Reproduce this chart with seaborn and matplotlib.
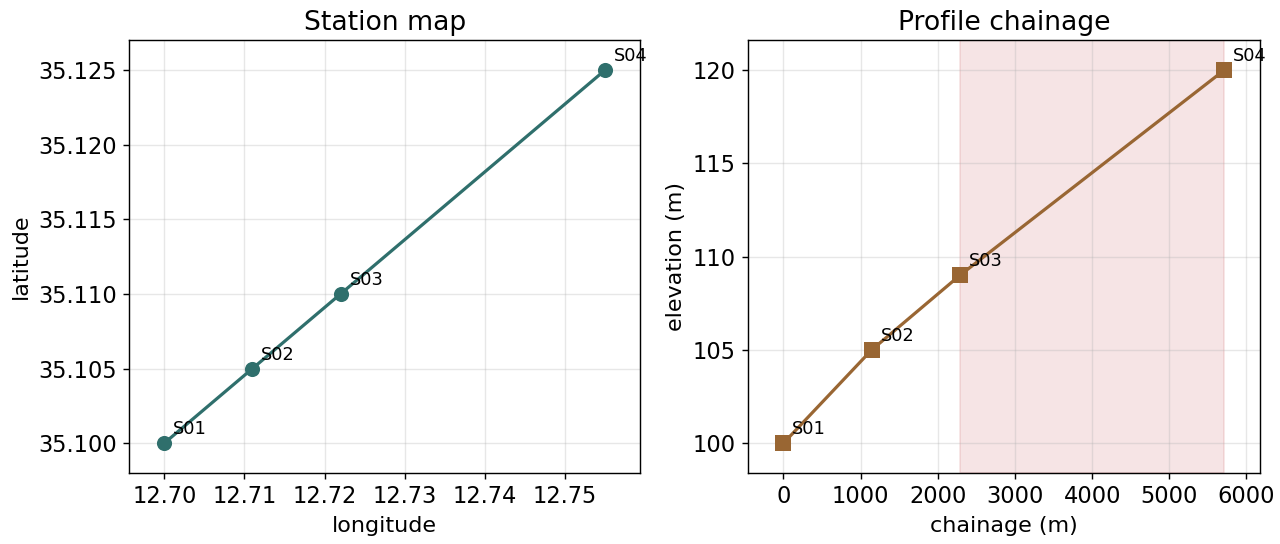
import matplotlib
matplotlib.use("Agg")
import matplotlib.pyplot as plt
from matplotlib.ticker import MultipleLocator, FormatStrFormatter
import seaborn as sns
import pandas as pd

# station data
stations = ["S01", "S02", "S03", "S04"]
longitude = [12.700, 12.711, 12.722, 12.755]
latitude = [35.100, 35.105, 35.110, 35.125]
chainage = [0, 1143, 2287, 5712]
elevation = [100, 105, 109, 120]

# highlighted stretch on the profile (S03 -> S04)
span_start = 2287
span_end = 5712

plt.rcParams["font.family"] = ["DejaVu Sans"]
plt.rcParams["xtick.labelsize"] = 12.7
plt.rcParams["ytick.labelsize"] = 12.7
plt.rcParams["axes.labelsize"] = 12.5
plt.rcParams["axes.titlesize"] = 15

df = pd.DataFrame({
    "station": stations,
    "longitude": longitude,
    "latitude": latitude,
    "chainage": chainage,
    "elevation": elevation,
})

fig, (ax1, ax2) = plt.subplots(1, 2, figsize=(10, 4.25), dpi=128)
fig.subplots_adjust(left=0.1008, right=0.984, top=0.926, bottom=0.1305, wspace=0.211)

# left: station map
sns.lineplot(data=df, x="longitude", y="latitude", ax=ax1, color="#2f6f6c",
             linewidth=1.8, marker="o", markersize=8.5, markeredgewidth=0, sort=False)
for _, r in df.iterrows():
    ax1.annotate(r["station"], (r["longitude"], r["latitude"]), xytext=(5, 5),
                 textcoords="offset points", fontsize=10)
ax1.margins(0.08)
ax1.set_title("Station map")
ax1.set_xlabel("longitude")
ax1.set_ylabel("latitude")
ax1.grid(True, alpha=0.3)
ax1.xaxis.set_major_locator(MultipleLocator(0.01))
ax1.yaxis.set_major_locator(MultipleLocator(0.005))
ax1.yaxis.set_major_formatter(FormatStrFormatter("%.3f"))
ax1.xaxis.set_major_formatter(FormatStrFormatter("%.2f"))

# right: profile
ax2.axvspan(span_start, span_end, color="#c44e52", alpha=0.15)
sns.lineplot(data=df, x="chainage", y="elevation", ax=ax2, color="#996633",
             linewidth=1.8, marker="s", markersize=8.5, markeredgewidth=0, sort=False)
for _, r in df.iterrows():
    ax2.annotate(r["station"], (r["chainage"], r["elevation"]), xytext=(5, 5),
                 textcoords="offset points", fontsize=10)
ax2.margins(0.08)
ax2.set_title("Profile chainage")
ax2.set_xlabel("chainage (m)")
ax2.set_ylabel("elevation (m)")
ax2.grid(True, alpha=0.3)
ax2.xaxis.set_major_locator(MultipleLocator(1000))
ax2.yaxis.set_major_locator(MultipleLocator(5))

fig.savefig("out.png", dpi=128)
